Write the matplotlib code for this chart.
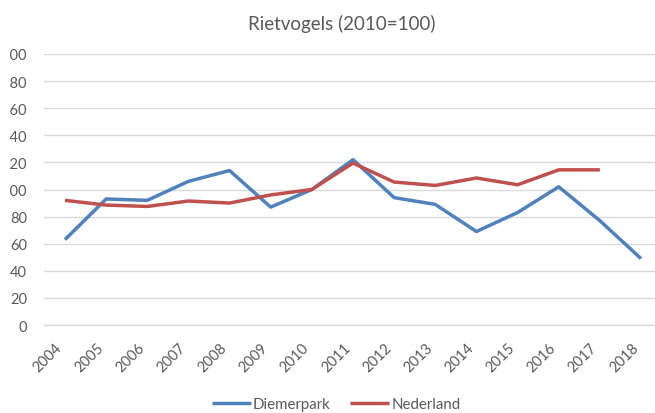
import matplotlib
matplotlib.use("Agg")
import matplotlib.pyplot as plt
from matplotlib.transforms import Bbox, TransformedBbox

years = ["2004", "2005", "2006", "2007", "2008", "2009", "2010", "2011",
         "2012", "2013", "2014", "2015", "2016", "2017", "2018"]
diemerpark = [63, 93, 92, 106, 114, 87, 100, 122, 94, 89, 69, 83, 102, 77, 49]
nederland = [92, 88.5, 87.5, 91.5, 90, 96, 100, 119.5, 105.5, 103, 108.5, 103.5, 114.5, 114.5]
yticks = [0, 20, 40, 60, 80, 100, 120, 140, 160, 180, 200]

plt.rcParams['font.family'] = ['Lato', 'DejaVu Sans']
W, H = 655, 414
fig = plt.figure(figsize=(W / 100, H / 100), dpi=100)
left, right, top, bottom = 44.4, 661.6, 55, 326
ax = fig.add_axes([left / W, 1 - bottom / H, (right - left) / W, (bottom - top) / H])

gray = '#595959'
ax.plot(range(len(diemerpark)), diemerpark, color='#4F81BD', lw=2.5, solid_capstyle='butt',
        label='Diemerpark', zorder=3)
ax.plot(range(len(nederland)), nederland, color='#C0504D', lw=2.5, solid_capstyle='butt',
        label='Nederland', zorder=3)

ax.set_xlim(-0.5, len(years) - 0.5)
ax.set_ylim(0, 200)
ax.set_yticks(yticks)
ax.set_yticklabels([str(v) for v in yticks])
ax.set_xticks(range(len(years)))
ax.set_xticklabels(years, rotation=45, ha='right', va='top')
ax.tick_params(axis='y', length=0, pad=12.5, labelsize=10.5, labelcolor=gray)
ax.tick_params(axis='x', length=0, pad=11, labelsize=10.5, labelcolor=gray)
ax.grid(axis='y', color='#D9D9D9', lw=1)
ax.set_axisbelow(True)
for s in ['top', 'right', 'left']:
    ax.spines[s].set_visible(False)
ax.spines['bottom'].set_color('#D9D9D9')
ax.spines['bottom'].set_linewidth(1)

# the reference image is cropped at the left edge, cutting off the first digit
clip = TransformedBbox(Bbox.from_extents(10 / W, 0, 1, 1), fig.transFigure)
for t in ax.yaxis.get_major_ticks():
    t.label1.set_clip_box(clip)
    t.label1.set_clip_on(True)

fig.text(342 / W, 1 - 24 / H, 'Rietvogels (2010=100)', ha='center', va='center',
         fontsize=13.5, color=gray)

leg = fig.legend(loc='center', bbox_to_anchor=(336 / W, 1 - 405 / H), ncol=2, frameon=False,
                 fontsize=10.8, handlelength=2.6, handletextpad=0.15, columnspacing=1.3)
for t in leg.get_texts():
    t.set_color(gray)

fig.savefig('out.png', dpi=100)
